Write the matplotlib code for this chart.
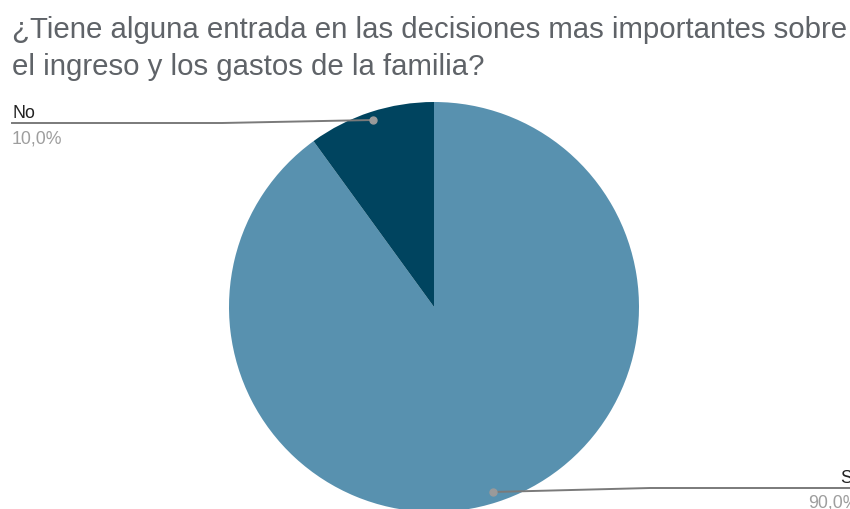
import matplotlib
matplotlib.use("Agg")
import matplotlib.pyplot as plt

categories = ["Sí", "No"]
values = [90.0, 10.0]
pct_labels = ["90,0%", "10,0%"]
colors = ["#5891AF", "#00445F"]
title_lines = ["¿Tiene alguna entrada en las decisiones mas importantes sobre",
               "el ingreso y los gastos de la familia?"]

W, H = 850, 509
fig = plt.figure(figsize=(W / 100, H / 100), dpi=100)
fig.patch.set_facecolor("white")

# pie axes placed in pixel terms: centre (434, 307), radius 205
cx, cy, r = 434, 307, 205
ax = fig.add_axes([(cx - r) / W, (H - cy - r) / H, 2 * r / W, 2 * r / H])
ax.pie(values, colors=colors, startangle=90, counterclock=False, radius=1.0,
       wedgeprops=dict(linewidth=0), center=(0, 0))
ax.set_xlim(-1, 1)
ax.set_ylim(-1, 1)
ax.set_aspect("equal")
ax.axis("off")


def px(x, y):
    """pixel coordinates (top-left origin) -> figure fraction"""
    return x / W, 1 - y / H


font = "Liberation Sans"
line_col = "#7a7a7a"
dot_col = "#9a9a9a"

# leader line geometry in pixels: dot, elbow, end, label x
leaders = {
    "No": ((373, 120), (222, 123), (12, 123), 12),
    "Sí": ((493, 492), (650, 488), (850, 488), 840),
}
pct_x = {"No": 12, "Sí": 808}

for cat, pct in zip(categories, pct_labels):
    dot, elbow, end, lx = leaders[cat]
    xs, ys = zip(*[px(*dot), px(*elbow), px(*end)])
    fig.add_artist(plt.Line2D(xs, ys, color=line_col, lw=1.4,
                              transform=fig.transFigure))
    fig.add_artist(plt.Line2D([xs[0]], [ys[0]], marker="o", ms=5,
                              color=dot_col, transform=fig.transFigure))
    ly = end[1]
    fig.text(*px(lx, ly - 5), cat, ha="left", va="baseline", fontsize=12.8,
             color="#222222", family=font)
    fig.text(*px(pct_x[cat], ly + 20), pct, ha="left", va="baseline",
             fontsize=12.8, color="#9e9e9e", family=font)

for i, line in enumerate(title_lines):
    fig.text(*px(12, 38 + 37 * i), line, ha="left", va="baseline",
             fontsize=21.2, color="#5f6368", family=font)

fig.savefig("out.png", dpi=100)
